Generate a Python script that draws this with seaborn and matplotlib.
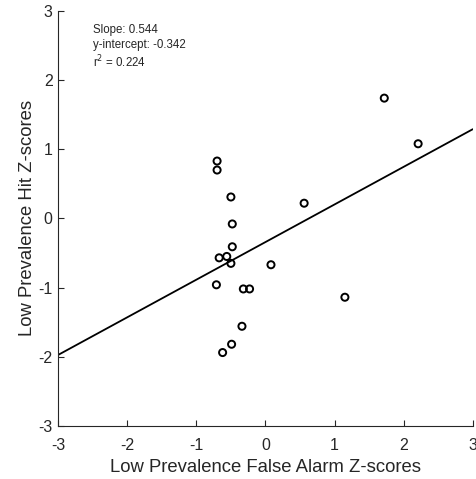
import matplotlib
matplotlib.use("Agg")
import matplotlib.pyplot as plt
import seaborn as sns
import numpy as np
import pandas as pd

fa_z = [-0.70, -0.70, -0.50, -0.48, -0.48, -0.67, -0.56, -0.50, 0.08, -0.71,
        -0.32, -0.23, -0.34, -0.49, -0.62, 0.56, 1.72, 2.21, 1.15]
hit_z = [0.83, 0.70, 0.31, -0.08, -0.41, -0.57, -0.55, -0.65, -0.67, -0.96,
         -1.02, -1.02, -1.56, -1.82, -1.94, 0.22, 1.74, 1.08, -1.14]
slope = 0.544
intercept = -0.342
r2 = 0.224
ticks = [-3, -2, -1, 0, 1, 2, 3]

sns.set_theme(style="ticks")
plt.rcParams['font.family'] = ['Liberation Sans', 'DejaVu Sans']

fig = plt.figure(figsize=(4.77, 4.79), dpi=100)
ax = fig.add_axes([0.122, 0.111, 0.869, 0.866])

df = pd.DataFrame({"x": fa_z, "y": hit_z})
line_x = np.array([-3.0, 3.0])
line_df = pd.DataFrame({"x": line_x, "y": slope * line_x + intercept})
sns.lineplot(data=line_df, x="x", y="y", ax=ax, color="black", linewidth=1.3)
sns.scatterplot(data=df, x="x", y="y", ax=ax, marker="o", s=26,
                facecolors="none", edgecolor="black", linewidth=1.4, zorder=3)

ax.set_xlim(-3, 3)
ax.set_ylim(-3, 3)
ax.set_xticks(ticks)
ax.set_yticks(ticks)
ax.set_xticklabels([str(t) for t in ticks])
ax.set_yticklabels([str(t) for t in ticks])
ax.tick_params(direction="in", length=4, width=0.8, labelsize=11.5, colors="#262626")
ax.tick_params(axis="x", pad=9)
ax.tick_params(axis="y", pad=4)
for side in ["top", "right"]:
    ax.spines[side].set_visible(False)
for side in ["left", "bottom"]:
    ax.spines[side].set_linewidth(0.8)
    ax.spines[side].set_color("#262626")

ax.set_xlabel("Low Prevalence False Alarm Z-scores", fontsize=13.3, color="#262626", labelpad=4)
ax.set_ylabel("Low Prevalence Hit Z-scores", fontsize=13.3, color="#262626", labelpad=2)

ax.text(0.083, 0.955, f"Slope: {slope}", transform=ax.transAxes, fontsize=8.3, va="center")
ax.text(0.083, 0.917, f"y-intercept: {intercept}", transform=ax.transAxes, fontsize=8.3, va="center")
ax.text(0.083, 0.877, r"r$^2$ = " + f"{r2}", transform=ax.transAxes, fontsize=8.3, va="center")

fig.savefig("out.png", dpi=100, facecolor="white")
